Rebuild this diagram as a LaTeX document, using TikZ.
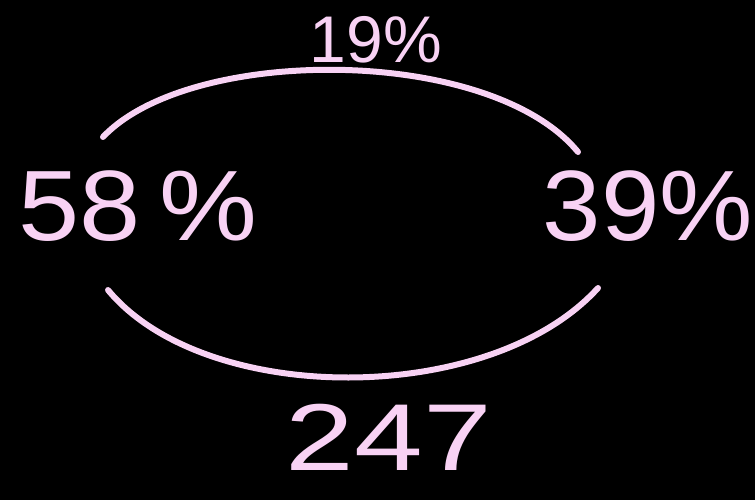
\documentclass[tikz,border=0pt]{standalone}
\usepackage{fontspec}
\setmainfont{Liberation Sans}
\definecolor{chalk}{HTML}{F8D2F4}
\begin{document}
\begin{tikzpicture}[x=1pt,y=-1pt,
  hand/.style={text=chalk,inner sep=0pt,anchor=center},
  arc/.style={draw=chalk,line width=6pt,line cap=round}]
\fill[black] (0,0) rectangle (755,500);
\useasboundingbox (0,0) rectangle (755,500);
\node[hand,font=\fontsize{100}{100}\selectfont,xscale=1.1] (n58) at (138,206) {58\,\%};
\node[hand,font=\fontsize{100}{100}\selectfont,xscale=1.05] (n39) at (648,206) {39\%};
\node[hand,font=\fontsize{66}{66}\selectfont,xscale=1.0] (n19) at (376,40) {19\%};
\node[hand,font=\fontsize{95}{95}\selectfont,xscale=1.3] (n247) at (389,437) {247};
\coordinate (ta) at (103,137);
\coordinate (tb) at (578,152);
\coordinate (ba) at (108,290);
\coordinate (bb) at (598,288);
\draw[arc] (ta) .. controls (190,45) and (490,45) .. (tb);
\draw[arc] (ba) .. controls (205,407) and (490,407) .. (bb);
\end{tikzpicture}
\end{document}
